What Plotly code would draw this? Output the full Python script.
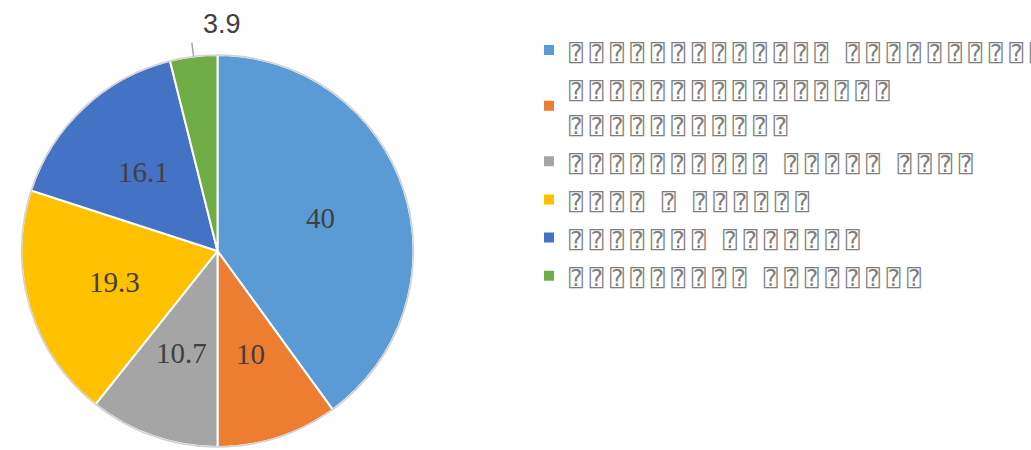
import math
import plotly.graph_objects as go

Q = "\u2370"

# Legend labels (the source text rendered as missing-glyph boxes):
# each legend entry is a list of lines, each line a list of word lengths
label_words = [
    [[13, 12]],
    [[16], [11]],
    [[10, 5, 4]],
    [[4, 1, 6]],
    [[7, 7]],
    [[9, 8]],
]
values = [40, 10, 10.7, 19.3, 16.1, 3.9]
colors = ["#5B9BD5", "#ED7D31", "#A5A5A5", "#FFC000", "#4472C4", "#70AD47"]
label_outside = [False, False, False, False, False, True]

WSPAN = '<span style="font-size:23px;letter-spacing:6.6px">{}</span>'
SSPAN = '<span style="font-size:7px;letter-spacing:6.6px">\u00a0</span>'


def make_line(lens):
    return SSPAN.join(WSPAN.format(Q * n) for n in lens)


labels = ["<br>".join(make_line(ln) for ln in entry) for entry in label_words]

W, H = 1031, 450
dom_x = [20 / W, 415 / W]
dom_y = [3 / H, 395 / H]

fig = go.Figure(
    go.Pie(
        labels=labels,
        values=values,
        sort=False,
        direction="clockwise",
        rotation=0,
        marker=dict(colors=colors, line=dict(color="white", width=2)),
        textinfo="none",
        domain=dict(x=dom_x, y=dom_y),
        hoverinfo="label+value",
    )
)

# geometry of the pie as plotly lays it out (from the domain)
cx = (dom_x[0] + dom_x[1]) / 2 * W
cy = (1 - (dom_y[0] + dom_y[1]) / 2) * H
r = min((dom_x[1] - dom_x[0]) * W, (dom_y[1] - dom_y[0]) * H) / 2

# thin outer rim
fig.add_shape(type="circle", xref="paper", yref="paper",
              x0=(cx - r) / W, x1=(cx + r) / W, y0=1 - (cy + r) / H, y1=1 - (cy - r) / H,
              line=dict(color="#D0D0D0", width=1.5))

# data labels placed along each slice's mid-angle
total = sum(values)
cum = 0.0
for v, outside in zip(values, label_outside):
    mid = (cum + v / 2) / total * 2 * math.pi
    cum += v
    sx, sy = math.sin(mid), -math.cos(mid)
    if not outside:
        px, py = cx + 0.55 * r * sx, cy + 0.55 * r * sy
        fig.add_annotation(x=px / W, y=1 - py / H, xref="paper", yref="paper",
                           text=f"{v:g}", showarrow=False,
                           xanchor="center", yanchor="middle",
                           font=dict(family="Liberation Serif", size=29, color="#404040"))
    else:
        x0, y0 = cx + r * sx, cy + r * sy
        x1, y1 = cx + (r + 14) * sx, cy + (r + 14) * sy
        fig.add_shape(type="line", xref="paper", yref="paper",
                      x0=x0 / W, y0=1 - y0 / H, x1=x1 / W, y1=1 - y1 / H,
                      line=dict(color="#A6A6A6", width=1.5))
        fig.add_annotation(x=x1 / W, y=1 - y1 / H, xref="paper", yref="paper",
                           text=f"{v:g}", showarrow=False,
                           xanchor="left", yanchor="bottom", xshift=9, yshift=2,
                           font=dict(family="Liberation Sans", size=27, color="#404040"))

fig.update_layout(
    width=W,
    height=H,
    margin=dict(l=0, r=0, t=0, b=0, autoexpand=False),
    paper_bgcolor="white",
    plot_bgcolor="white",
    showlegend=True,
    legend=dict(
        x=529 / W,
        xanchor="left",
        y=1 - 26 / H,
        yanchor="top",
        font=dict(family="DejaVu Sans Mono", size=27, color="#7F7F7F"),
        itemclick=False,
        itemdoubleclick=False,
    ),
)

fig.write_html("out.html", config={"displayModeBar": False},
               post_script="document.body.style.margin='0';")
